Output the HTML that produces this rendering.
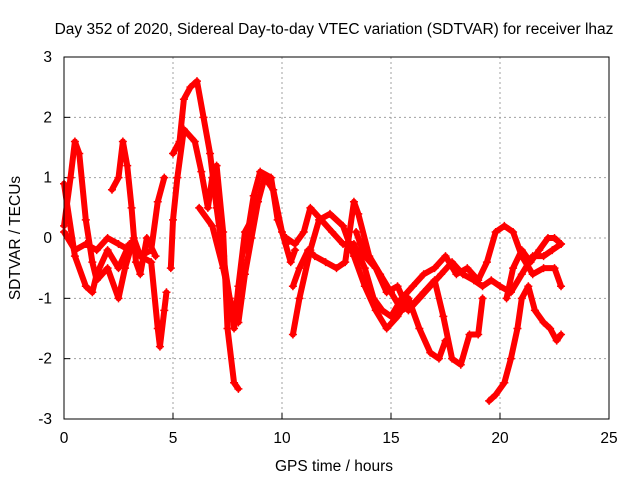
<!DOCTYPE html>
<html><head><meta charset="utf-8"><style>
body{margin:0;background:#fff}
svg text{font-family:"Liberation Sans",sans-serif;font-size:15.5px;fill:#000}
</style></head><body>
<svg id="chart" width="640" height="480">
<text x="334" y="34" text-anchor="middle">Day 352 of 2020, Sidereal Day-to-day VTEC variation (SDTVAR) for receiver lhaz</text>
<text x="334" y="471" text-anchor="middle">GPS time / hours</text>
<text transform="translate(20,238) rotate(-90)" text-anchor="middle">SDTVAR / TECUs</text>
<g id="grid"></g><g id="series"></g>
<rect x="64" y="57" width="545" height="362" fill="none" stroke="#000" stroke-width="1"/>
</svg>
<script>
const xTicks=[0,5,10,15,20,25];
const yTicks=[-3,-2,-1,0,1,2,3];
const trackA=[[0,0.9],[0.5,-0.3],[1,-0.8],[1.3,-0.9],[1.5,-0.6],[2,-0.2],[2.5,-0.5],[3,-0.1],[3.5,-0.3],[4,-0.2],[4.3,0.6],[4.6,1.0]];
const trackB=[[0,0.2],[0.3,1.0],[0.5,1.6],[0.7,1.4],[1,0.3],[1.3,-0.4],[1.5,-0.7],[2,-0.5],[2.5,-1.0],[2.8,-0.5],[3.2,0],[3.5,-0.3],[4,-0.4],[4.3,-1.5],[4.4,-1.8],[4.6,-1.2],[4.7,-0.9]];
const trackC=[[2.2,0.8],[2.5,1.0],[2.7,1.6],[2.9,1.2],[3.1,0.5],[3.3,-0.4],[3.5,-0.6],[3.8,0],[4.2,-0.3]];
const trackD=[[0,0.1],[0.5,-0.2],[1,-0.1],[1.5,-0.2],[2,0],[2.5,-0.1],[3,-0.2]];
const trackE=[[5,1.4],[5.3,1.6],[5.5,2.3],[5.8,2.5],[6.1,2.6],[6.4,2.0],[6.7,1.4],[7.0,0.5],[7.3,-0.3],[7.6,-1.0],[7.8,-1.5],[8,-0.8],[8.3,0.1],[8.6,0.3]];
const trackF=[[4.9,-0.5],[5.0,0.3],[5.2,1.0],[5.5,1.8],[6.0,1.6],[6.3,1.1],[6.6,0.5],[6.8,1.0],[7.0,1.2],[7.3,0.1],[7.5,-1.5],[7.8,-2.4],[8,-2.5]];
const trackG=[[6.2,0.5],[6.8,0.2],[7.3,-0.5],[7.6,-1.0],[8.0,-1.4],[8.3,-0.6],[8.6,0.0],[8.9,0.6],[9.2,1.0],[9.6,0.8],[10.0,0.1],[10.4,-0.4],[10.6,-0.2]];
const trackH=[[8.3,-0.2],[8.7,0.7],[9.0,1.1],[9.5,1.0],[9.8,0.3],[10.2,-0.1]];
const trackI=[[10.5,-1.6],[10.8,-1.0],[11.3,-0.2],[11.7,0.3],[12.2,0.4],[12.8,0.2],[13.3,-0.3],[13.8,-0.8],[14.3,-1.2],[14.8,-1.5],[15.3,-1.3],[15.8,-1.0],[16.3,-1.5],[16.8,-1.9],[17.2,-2.0],[17.5,-1.7]];
const trackJ=[[10.5,-0.8],[10.8,-0.5],[11.2,-0.2],[11.5,-0.3],[12,-0.4],[12.5,-0.5],[12.9,-0.4],[13.3,0.6],[13.5,0.4],[14,-0.3],[14.5,-0.6],[15,-0.9],[15.5,-1.2],[16,-1.1],[16.5,-0.9],[17,-0.7],[17.4,-1.3],[17.8,-2.0],[18.2,-2.1],[18.6,-1.6],[19,-1.6],[19.2,-1.0]];
const trackK=[[10.2,0.0],[10.6,-0.1],[11.0,0.1],[11.3,0.5],[11.8,0.3],[12.3,0.1],[12.8,-0.1],[13.3,-0.1],[13.8,-0.5],[14.2,-1.0],[14.6,-1.2],[15,-1.3],[15.5,-1.0],[16,-0.8],[16.5,-0.6],[17,-0.5],[17.5,-0.3],[18,-0.6],[18.5,-0.5],[19,-0.7],[19.4,-0.4],[19.8,0.1],[20.2,0.2],[20.6,0.1],[21,-0.3],[21.5,-0.6],[22,-0.5],[22.5,-0.5],[22.8,-0.8]];
const trackL=[[13.4,0.1],[13.8,-0.3],[14.3,-0.5],[14.8,-0.9],[15.3,-0.8],[15.8,-1.2],[16.3,-1.0],[16.8,-0.8],[17.3,-0.6],[17.8,-0.4],[18.3,-0.6],[18.8,-0.7],[19.2,-0.8],[19.6,-0.7],[20,-0.8],[20.5,-0.9],[21,-0.6],[21.5,-0.3],[22,-0.3],[22.4,-0.2],[22.8,-0.1]];
const trackM=[[19.5,-2.7],[19.8,-2.6],[20.2,-2.4],[20.5,-2.0],[20.8,-1.5],[21.0,-1.0],[21.3,-0.8],[21.6,-1.2],[22,-1.4],[22.3,-1.5],[22.6,-1.7],[22.8,-1.6]];
const trackN=[[20.3,-1.0],[20.6,-0.5],[21,-0.2],[21.4,-0.4],[21.8,-0.2],[22.2,0.0],[22.5,0.0],[22.8,-0.1]];
const tracks=[trackA,trackB,trackC,trackD,trackE,trackF,trackG,trackH,trackI,trackJ,trackK,trackL,trackM,trackN];
const NS='http://www.w3.org/2000/svg';
const X0=64,X1=609,Y0=419,Y1=57;
function sx(v){return X0+(v-0)/(25-0)*(X1-X0);}
function sy(v){return Y0-(v+3)/6*(Y0-Y1);}
const grid=document.getElementById('grid');
function mk(tag,attrs){const e=document.createElementNS(NS,tag);for(const k in attrs)e.setAttribute(k,attrs[k]);return e;}
xTicks.forEach(t=>{
  const x=sx(t);
  if(t>0&&t<25){const l=mk('line',{x1:x,x2:x,y1:Y0,y2:Y1,stroke:'#a0a0a0','stroke-dasharray':'2,3'});
  
  grid.appendChild(l);}
  const k=mk('line',{x1:x,x2:x,y1:Y0,y2:Y0-6,stroke:'#000'});grid.appendChild(k);
  const tx=mk('text',{x:x,y:Y0+24,'text-anchor':'middle'});tx.textContent=t;
  
  grid.appendChild(tx);
});
yTicks.forEach(t=>{
  const y=sy(t);
  if(t>-3&&t<3){const l=mk('line',{x1:X0,x2:X1,y1:y,y2:y,stroke:'#a0a0a0','stroke-dasharray':'2,3'});
  
  grid.appendChild(l);}
  const k=mk('line',{x1:X0,x2:X0+6,y1:y,y2:y,stroke:'#000'});grid.appendChild(k);
  const tx=mk('text',{x:X0-12,y:y+5,'text-anchor':'end'});tx.textContent=t;
  
  grid.appendChild(tx);
});
const sg=document.getElementById('series');
tracks.forEach(tr=>{
  const pl=mk('polyline',{points:tr.map(p=>sx(p[0])+','+sy(p[1])).join(' '),fill:'none',stroke:'#ff0000','stroke-width':6,'stroke-linejoin':'round','stroke-linecap':'round'});
  
  
  sg.appendChild(pl);
  tr.forEach(p=>{
    const x=sx(p[0]),y=sy(p[1]);
    const m=mk('path',{d:`M${x-4},${y}H${x+4}M${x},${y-4}V${y+4}`,stroke:'#ff0000','stroke-width':1.5});
    
    
    sg.appendChild(m);
  });
});
</script>
</body></html>
